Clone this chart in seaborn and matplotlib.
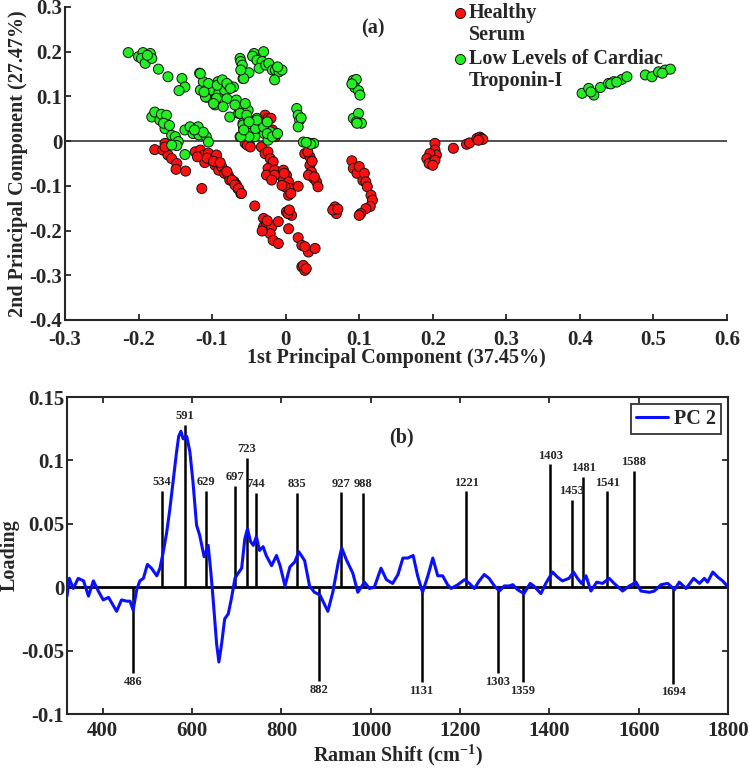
import matplotlib
matplotlib.use("Agg")
import matplotlib.pyplot as plt
import seaborn as sns
import pandas as pd
import numpy as np

# ---------------- data: PCA scores ----------------
healthy_x = [-0.178,-0.167,-0.164,-0.160,-0.155,-0.148,-0.149,-0.136,-0.164,
             -0.123,-0.116,-0.111,-0.110,-0.105,-0.101,-0.094,-0.096,-0.091,-0.087,-0.083,-0.078,-0.076,-0.070,-0.065,-0.061,-0.067,-0.114,-0.120,-0.107,-0.098,-0.089,-0.080,
             -0.073,-0.069,-0.064,-0.060,-0.042,
             -0.028,-0.024,-0.020,-0.021,-0.018,-0.017,-0.014,-0.055,-0.049,-0.052,-0.048,
             -0.033,-0.028,-0.024,-0.021,-0.017,-0.024,-0.026,-0.015,-0.015,-0.019,
             -0.003,0.001,-0.003,0.004,0.006,-0.001,0.004,0.017,-0.005,0.007,-0.002,
             0.026,0.033,0.033,0.035,0.038,0.042,0.044,0.031,0.039,0.030,0.036,
             -0.030,-0.030,-0.026,-0.019,-0.021,-0.010,-0.017,-0.010,0.004,-0.032,-0.025,
             0.001,0.008,0.003,0.005,
             0.017,0.022,0.031,0.040,0.026,
             0.022,0.026,0.024,0.028,
             0.067,0.069,0.064,0.071,
             0.090,0.092,0.097,0.100,0.105,0.107,0.109,0.111,0.116,0.118,0.115,0.109,0.102,0.100,
             0.203,0.203,0.205,0.196,0.192,0.199,0.195,0.203,0.200,
             0.228,0.246,0.250,0.260,0.264,0.266,0.268,0.262]
healthy_y = [-0.019,-0.020,-0.005,-0.031,-0.039,-0.050,-0.063,-0.067,-0.013,
             -0.024,-0.020,-0.031,-0.048,-0.027,-0.042,-0.031,-0.054,-0.065,-0.057,-0.072,-0.076,-0.087,-0.091,-0.106,-0.117,-0.098,-0.106,-0.035,-0.038,-0.045,-0.048,-0.068,
             -0.087,-0.098,-0.106,-0.117,-0.145,
             0.058,0.051,0.051,0.021,0.025,0.010,0.010,-0.005,-0.009,-0.009,-0.013,
             -0.013,-0.028,-0.024,-0.039,-0.046,-0.061,-0.076,-0.065,-0.076,-0.087,
             -0.065,-0.076,-0.087,-0.091,-0.106,-0.102,-0.121,-0.101,-0.099,-0.117,-0.072,
             -0.028,-0.035,-0.054,-0.069,-0.083,-0.091,-0.102,-0.076,-0.080,-0.024,-0.045,
             -0.173,-0.192,-0.184,-0.192,-0.207,-0.180,-0.222,-0.229,-0.196,-0.201,-0.178,
             -0.158,-0.166,-0.162,-0.154,
             -0.216,-0.233,-0.248,-0.240,-0.236,
             -0.281,-0.289,-0.278,-0.285,
             -0.147,-0.162,-0.154,-0.152,
             -0.044,-0.061,-0.072,-0.057,-0.088,-0.072,-0.091,-0.102,-0.121,-0.132,-0.146,-0.151,-0.162,-0.166,
             -0.005,-0.020,-0.031,-0.028,-0.039,-0.046,-0.050,-0.043,-0.054,
             -0.016,-0.007,-0.004,0.006,0.009,0.006,0.004,0.002]

tnni_x = [-0.214,-0.200,-0.194,-0.196,-0.191,-0.184,-0.182,-0.188,-0.173,-0.160,-0.141,-0.137,-0.145,
          -0.117,-0.116,-0.112,-0.107,-0.103,-0.096,-0.092,-0.091,-0.083,-0.078,-0.080,-0.071,-0.085,-0.094,-0.109,-0.098,-0.105,-0.093,-0.086,-0.080,-0.075,-0.111,-0.116,
          -0.076,-0.067,-0.064,-0.062,-0.058,-0.051,-0.057,-0.069,-0.062,-0.053,-0.058,-0.049,-0.039,-0.037,-0.030,-0.029,-0.021,-0.024,-0.062,-0.042,-0.055,
          -0.050,-0.041,-0.030,-0.039,-0.025,-0.018,-0.011,-0.050,-0.061,-0.057,-0.025,
          -0.062,-0.060,-0.058,-0.043,-0.045,-0.030,-0.039,-0.032,-0.036,-0.027,-0.061,-0.059,-0.050,-0.057,-0.061,
          -0.023,-0.018,-0.014,-0.009,-0.005,-0.015,-0.011,
          -0.182,-0.178,-0.171,-0.169,-0.164,-0.162,-0.155,-0.150,-0.146,-0.166,-0.158,-0.148,
          -0.137,-0.130,-0.126,-0.119,-0.118,-0.108,-0.105,-0.112,-0.124,-0.137,-0.155,
          0.015,0.017,0.019,0.017,0.021,
          0.024,0.031,0.038,0.034,0.028,
          0.092,0.096,0.094,0.099,0.101,0.090,
          0.092,0.099,0.103,0.096,0.097,
          0.403,0.419,0.412,0.428,0.439,0.446,0.457,0.464,0.489,0.498,0.507,0.516,0.523,0.415,0.442,0.450,0.512]
tnni_y = [0.198,0.189,0.198,0.185,0.174,0.196,0.185,0.192,0.161,0.144,0.140,0.121,0.113,
          0.152,0.114,0.133,0.098,0.114,0.081,0.133,0.107,0.114,0.125,0.095,0.121,0.077,0.096,0.099,0.084,0.129,0.125,0.137,0.129,0.118,0.110,0.151,
          0.054,0.092,0.062,0.070,0.040,0.069,0.027,0.081,0.062,0.058,0.036,0.017,0.051,0.021,0.032,0.017,0.021,0.002,0.010,0.010,0.084,
          0.010,0.028,0.032,0.047,0.017,0.010,0.017,0.043,0.010,0.025,0.043,
          0.185,0.159,0.140,0.196,0.190,0.200,0.181,0.178,0.163,0.170,0.178,0.170,0.153,0.140,0.159,
          0.174,0.159,0.159,0.155,0.159,0.137,0.166,
          0.054,0.065,0.047,0.060,0.028,0.058,0.013,0.010,-0.001,0.040,0.035,-0.010,
          0.025,0.032,0.017,0.032,0.014,0.010,-0.002,0.020,0.025,-0.030,-0.009,
          0.073,0.058,0.047,0.032,0.052,
          -0.002,-0.004,-0.005,-0.007,-0.003,
          0.136,0.138,0.120,0.113,0.103,0.128,
          0.051,0.062,0.040,0.043,0.040,
          0.107,0.103,0.118,0.120,0.129,0.133,0.138,0.144,0.148,0.144,0.155,0.159,0.161,0.110,0.128,0.132,0.152]

group_names = ["Healthy\nSerum", "Low Levels of Cardiac\nTroponin-I"]

# ---------------- data: PC2 loading ----------------
shift = [320,325,334,345,357,368,379,390,401,413,431,442,454,461,468,476,483,491,500,509,521,528,535,
         543,550,558,565,570,575,580,588,595,602,610,617,627,636,642,647,655,660,666,673,681,688,696,
         703,711,718,724,731,737,744,751,759,766,778,789,797,808,819,830,839,852,863,874,886,904,915,
         927,935,945,960,971,986,997,1008,1023,1035,1049,1061,1072,1083,1095,1105,1116,1128,1139,1150,
         1161,1172,1180,1195,1210,1221,1232,1243,1254,1265,1277,1288,1299,1310,1318,1329,1343,1357,1365,
         1381,1392,1407,1418,1429,1444,1454,1463,1472,1482,1493,1506,1519,1534,1545,1564,1579,1594,1605,
         1624,1635,1650,1665,1680,1691,1706,1723,1736,1747,1754,1766,1777,1788,1798]
loading = [-0.007,0.007,-0.001,0.007,0.005,-0.007,0.005,-0.003,-0.010,-0.008,-0.019,-0.010,-0.011,-0.011,
           -0.018,-0.002,0.005,0.007,0.018,0.015,0.009,0.015,0.027,0.043,0.061,0.085,0.106,0.119,0.123,
           0.117,0.119,0.107,0.083,0.049,0.041,0.024,0.033,0.012,-0.009,-0.045,-0.059,-0.045,-0.025,
           -0.021,-0.009,0.007,0.011,0.015,0.038,0.046,0.036,0.033,0.040,0.029,0.032,0.025,0.017,0.025,
           0.017,0.001,0.016,0.020,0.028,0.021,0.001,-0.004,-0.006,-0.019,-0.004,0.019,0.031,0.022,
           0.011,-0.004,0.004,-0.001,0.000,0.015,0.006,0.003,0.010,0.023,0.023,0.025,0.009,-0.004,0.009,
           0.023,0.009,0.009,0.002,-0.001,0.002,0.006,0.003,-0.001,0.005,0.010,0.007,0.001,-0.003,0.001,
           0.001,0.002,-0.002,-0.005,0.003,0.001,-0.005,0.003,0.012,0.008,0.005,0.007,0.012,0.007,0.003,
           0.009,-0.003,0.004,0.003,0.007,0.003,-0.003,0.001,0.004,-0.003,-0.004,-0.003,0.002,0.003,
           -0.002,0.004,-0.001,0.007,0.003,0.007,0.004,0.012,0.008,0.005,0.001]

peak_pos = [468,532,584,632,697,722,743,836,884,934,982,1114,1214,1285,1340,1402,1450,1476,1530,1589,1677]
peak_height = [-0.068,0.076,0.128,0.076,0.080,0.102,0.0745,0.0745,-0.074,0.075,0.0745,-0.075,0.0755,
               -0.068,-0.075,0.097,0.069,0.087,0.0755,0.092,-0.076]
peak_labels = ["486","534","591","629","697","723","744","835","882","927","988","1131","1221","1303",
               "1359","1403","1453","1481","1541","1588","1694"]

# ---------------- style ----------------
sns.set_style("ticks")
plt.rcParams["font.family"] = ["Liberation Serif", "DejaVu Serif"]
plt.rcParams["font.weight"] = "bold"
plt.rcParams["axes.labelweight"] = "bold"
plt.rcParams["xtick.direction"] = "in"
plt.rcParams["ytick.direction"] = "in"
plt.rcParams["axes.linewidth"] = 1.5
plt.rcParams["xtick.major.width"] = 1.3
plt.rcParams["ytick.major.width"] = 1.3
plt.rcParams["xtick.major.size"] = 4
plt.rcParams["ytick.major.size"] = 4
plt.rcParams["mathtext.fontset"] = "custom"
plt.rcParams["mathtext.rm"] = "Liberation Serif:bold"
plt.rcParams["mathtext.bf"] = "Liberation Serif:bold"

FS_LAB = 14.5
FS_TICK = 15
fig = plt.figure(figsize=(7.49, 7.69), dpi=100)

# ---------------- top panel ----------------
ax1 = fig.add_axes([0.0868, 0.5839, 0.8838, 0.4070])
df = pd.DataFrame({
    "pc1": healthy_x + tnni_x,
    "pc2": healthy_y + tnni_y,
    "group": [group_names[0]] * len(healthy_x) + [group_names[1]] * len(tnni_x),
})
palette = {group_names[0]: "#ff1010", group_names[1]: "#22ee22"}
ax1.axhline(0, color="#333333", lw=1.2, zorder=0)
sns.scatterplot(data=df, x="pc1", y="pc2", hue="group", palette=palette, s=52,
                edgecolor="#111111", linewidth=0.7, ax=ax1, legend=False, zorder=3)
ax1.set_xlim(-0.3, 0.6)
ax1.set_ylim(-0.4, 0.3)
xt = [-0.3, -0.2, -0.1, 0, 0.1, 0.2, 0.3, 0.4, 0.5, 0.6]
ax1.set_xticks(xt)
ax1.set_xticklabels(["-0.3", "-0.2", "-0.1", "0", "0.1", "0.2", "0.3", "0.4", "0.5", "0.6"], fontsize=FS_TICK)
yt = [-0.4, -0.3, -0.2, -0.1, 0, 0.1, 0.2, 0.3]
ax1.set_yticks(yt)
ax1.set_yticklabels(["-0.4", "-0.3", "-0.2", "-0.1", "0", "0.1", "0.2", "0.3"], fontsize=FS_TICK)
ax1.tick_params(axis="x", pad=7)
ax1.tick_params(axis="y", pad=2)
ax1.set_xlabel("1st Principal Component (37.45%)", fontsize=FS_LAB, labelpad=-1)
ax1.set_ylabel("2nd Principal Component (27.47%)", fontsize=FS_LAB, labelpad=1)
sns.despine(ax=ax1)
ax1.text(0.119, 0.253, "(a)", fontsize=FS_LAB, ha="center", va="center")

# manual legend (markers aligned with first text line)
leg_rows = [(0.981, 0.911, group_names[0]), (0.834, 0.764, group_names[1])]
for (ym, y2, name) in leg_rows:
    ax1.scatter([0.597], [ym], s=52, color=palette[name], edgecolor="#111111", linewidth=0.7,
                transform=ax1.transAxes, clip_on=False, zorder=5)
    l1, l2 = name.split("\n")
    ax1.text(0.610, ym, l1, transform=ax1.transAxes, fontsize=FS_LAB, va="center", ha="left")
    ax1.text(0.610, y2, l2, transform=ax1.transAxes, fontsize=FS_LAB, va="center", ha="left")

# ---------------- bottom panel ----------------
ax2 = fig.add_axes([0.0895, 0.0715, 0.8825, 0.4122])
ax2.axhline(0, color="black", lw=2.0, zorder=2)
ax2.vlines(peak_pos, 0, peak_height, color="black", lw=1.8, zorder=3)
for p, h, lab in zip(peak_pos, peak_height, peak_labels):
    if h > 0:
        ax2.text(p, h + 0.002, lab, fontsize=9, ha="center", va="bottom")
    else:
        ax2.text(p, h - 0.002, lab, fontsize=9, ha="center", va="top")
ldf = pd.DataFrame({"shift": shift, "loading": loading})
sns.lineplot(data=ldf, x="shift", y="loading", color="#0a10ff", lw=2.2, ax=ax2,
             label="PC 2", zorder=4)
ax2.set_xlim(320, 1800)
ax2.set_ylim(-0.1, 0.15)
ax2.set_xticks([400, 600, 800, 1000, 1200, 1400, 1600, 1800])
ax2.set_xticklabels(["400", "600", "800", "1000", "1200", "1400", "1600", "1800"], fontsize=FS_TICK)
ax2.set_yticks([-0.1, -0.05, 0, 0.05, 0.1, 0.15])
ax2.set_yticklabels(["-0.1", "-0.05", "0", "0.05", "0.1", "0.15"], fontsize=FS_TICK)
ax2.tick_params(top=True, right=True)
ax2.tick_params(axis="x", pad=5)
ax2.tick_params(axis="y", pad=2)
ax2.set_xlabel("Raman Shift (cm$^{-1}$)", fontsize=FS_LAB, labelpad=1)
ax2.set_ylabel("Loading", fontsize=FS_LAB, labelpad=1)
ax2.text(1069, 0.118, "(b)", fontsize=FS_LAB, ha="center", va="center")
leg = ax2.legend(loc="upper right", fontsize=FS_LAB, frameon=True, fancybox=False,
                 edgecolor="black", handlelength=1.6, handletextpad=0.3,
                 borderpad=0.25, borderaxespad=0.35)
leg.get_frame().set_linewidth(1.3)
for t in leg.get_texts():
    t.set_fontweight("bold")

fig.savefig("out.png", dpi=100)
